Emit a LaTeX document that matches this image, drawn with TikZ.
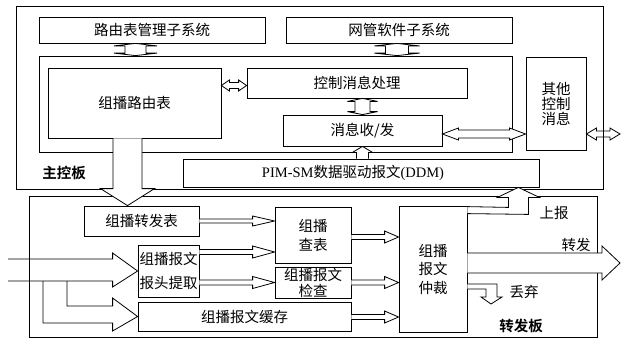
\documentclass[tikz,border=0pt]{standalone}
\usepackage{fontspec}
\newfontfamily\cjk{Noto Sans CJK SC}[BoldFont={Noto Sans CJK SC Bold}]
\newfontfamily\tnr{Liberation Serif}
\usetikzlibrary{calc}
\tikzset{
  box/.style={draw=black, line width=0.8pt, rectangle, inner sep=0pt, align=center, font=\cjk\fontsize{14.5}{18}\selectfont},
  frame/.style={draw=black, line width=0.8pt, rectangle, inner sep=0pt},
  hollow/.style={draw=black, line width=0.8pt, fill=white, line join=miter},
  hollowopen/.style={draw=black, line width=0.8pt, line join=miter},
  wire/.style={draw=black, line width=0.8pt, line join=miter},
  lbl/.style={inner sep=0pt, font=\cjk\fontsize{14.5}{18}\selectfont},
}
% right-pointing hollow arrow: start, tip, stem half, head half, head length
\newcommand\harrow[5]{\path[hollow] ($(#1)+(0,-#3)$) -- ($(#2)+(-#5,-#3)$) -- ($(#2)+(-#5,-#4)$) -- (#2) -- ($(#2)+(-#5,#4)$) -- ($(#2)+(-#5,#3)$) -- ($(#1)+(0,#3)$);}
% horizontal double arrow: left tip, right tip, stem half, head half, head length
\newcommand\hdarrow[6][hollow]{\path[#1] (#2) -- ($(#2)+(#6,-#5)$) -- ($(#2)+(#6,-#4)$) -- ($(#3)+(-#6,-#4)$) -- ($(#3)+(-#6,-#5)$) -- (#3) -- ($(#3)+(-#6,#5)$) -- ($(#3)+(-#6,#4)$) -- ($(#2)+(#6,#4)$) -- ($(#2)+(#6,#5)$) -- cycle;}
% vertical double arrow: top tip, bottom tip, stem half, head half, head length
\newcommand\vdarrow[5]{\path[hollow] (#1) -- ($(#1)+(#4,#5)$) -- ($(#1)+(#3,#5)$) -- ($(#2)+(#3,-#5)$) -- ($(#2)+(#4,-#5)$) -- (#2) -- ($(#2)+(-#4,-#5)$) -- ($(#2)+(-#3,-#5)$) -- ($(#1)+(-#3,#5)$) -- ($(#1)+(-#4,#5)$) -- cycle;}
% downward hollow arrow: start, tip, stem half, head half, head length
\newcommand\vsarrow[5]{\path[hollow] ($(#1)+(-#3,0)$) -- ($(#2)+(-#3,-#5)$) -- ($(#2)+(-#4,-#5)$) -- (#2) -- ($(#2)+(#4,-#5)$) -- ($(#2)+(#3,-#5)$) -- ($(#1)+(#3,0)$);}
\begin{document}
\begin{tikzpicture}[x=1pt,y=-1pt]
\useasboundingbox (0,0) rectangle (621,341);
% frames
\node[frame, minimum width=587pt, minimum height=183pt] (mainb) at (309.5,97.5) {};
\node[frame, minimum width=473pt, minimum height=96pt] (ctrl) at (275.5,104) {};
\node[frame, minimum width=568pt, minimum height=141pt] (fwdb) at (313,266.5) {};
% main board boxes
\node[box, minimum width=226pt, minimum height=26pt] (rtm) at (152,30) {路由表管理子系统};
\node[box, minimum width=226pt, minimum height=26pt] (nms) at (399,30) {网管软件子系统};
\node[box, minimum width=173pt, minimum height=70pt] (mrt) at (134.5,103) {组播路由表};
\node[box, minimum width=220pt, minimum height=30pt] (cmp) at (357,83) {控制消息处理};
\node[box, minimum width=159pt, minimum height=31pt] (msg) at (362.5,130.5) {消息收/发};
\node[box, minimum width=60pt, minimum height=93pt, font=\cjk\fontsize{14.5}{15}\selectfont] (oth) at (556,103.5) {其他\\控制\\消息};
\node[box, minimum width=356pt, minimum height=28pt] (pim) at (361,173) {{\tnr PIM-SM}数据驱动报文{\tnr (DDM)}\hspace*{16pt}};
% forwarding board boxes
\node[box, minimum width=115pt, minimum height=30pt] (mft) at (141.5,221) {组播转发表};
\node[box, minimum width=76pt, minimum height=56pt, font=\cjk\fontsize{14.5}{19}\selectfont] (lkp) at (313,235) {组播\\查表};
\node[box, minimum width=61pt, minimum height=52pt, font=\cjk\fontsize{14.5}{24}\selectfont] (hdr) at (168.5,271) {组播报文\\报头提取};
\node[box, minimum width=76pt, minimum height=31pt, font=\cjk\fontsize{14.5}{16}\selectfont] (chk) at (313,282.5) {组播报文\\检查};
\node[box, minimum width=213pt, minimum height=29pt] (buf) at (244.5,316.5) {组播报文缓存};
\node[box, minimum width=68pt, minimum height=126pt, font=\cjk\fontsize{14.5}{18.5}\selectfont] (arb) at (433,269) {组播\\报文\\仲裁};
% vertical double arrows
\coordinate (u1) at ($(rtm.south)+(-16.5,0)$);
\coordinate (d1) at (u1 |- ctrl.north);
\vdarrow{u1}{d1}{10.5}{21.5}{2.5}
\coordinate (u2) at ($(nms.south)+(-2,0)$);
\coordinate (d2) at (u2 |- ctrl.north);
\vdarrow{u2}{d2}{11.5}{22.5}{2.5}
\coordinate (u3) at (cmp.south -| msg.north);
\vdarrow{u3}{msg.north}{7.5}{15}{3}
% PIM -> msg up arrow
\coordinate (p0) at (pim.north -| msg.south);
\path[hollow] ($(p0)+(-6,0)$) -- ($(msg.south)+(-6,6)$) -- ($(msg.south)+(-10,6)$) -- (msg.south) -- ($(msg.south)+(10,6)$) -- ($(msg.south)+(6,6)$) -- ($(p0)+(6,0)$);
% horizontal double arrows
\coordinate (h1) at ($(cmp.west)+(0,2.5)$);
\coordinate (h0) at (mrt.east |- h1);
\hdarrow{h0}{h1}{3}{5.5}{8}
\coordinate (m1) at ($(msg.east)+(0,3.5)$);
\coordinate (m2) at (oth.west |- m1);
\hdarrow{m1}{m2}{4}{6}{16}
\coordinate (o1) at (oth.east |- m1);
\coordinate (o2) at (620,134);
\hdarrow[hollowopen]{o1}{o2}{3}{6}{10}
% big down arrow routing table -> forwarding table
\coordinate (b0) at ($(mrt.south)+(-7,0)$);
\coordinate (b1) at (b0 |- mft.north);
\vsarrow{b0}{b1}{14.5}{27}{17}
% small arrows into lookup / check / arbitration
\coordinate (t1) at (mft.east -| lkp.west);
\harrow{mft.east}{t1}{2}{5}{22}
\coordinate (s2) at ($(hdr.east)+(0,-19)$);
\coordinate (t2) at (s2 -| lkp.west);
\harrow{s2}{t2}{2.5}{6}{22}
\coordinate (s3) at (hdr.east |- chk.west);
\harrow{s3}{chk.west}{2.5}{6}{22}
\coordinate (s4) at ($(lkp.east)+(0,2)$);
\coordinate (t4) at (s4 -| arb.west);
\harrow{s4}{t4}{2.5}{6}{14}
\coordinate (t5) at (chk.east -| arb.west);
\harrow{chk.east}{t5}{2.5}{6}{14}
\coordinate (s6) at ($(buf.east)+(0,0.5)$);
\coordinate (t6) at (s6 -| arb.west);
\harrow{s6}{t6}{2.5}{6}{14}
% inputs
\coordinate (i1) at (8,259);
\coordinate (i2) at (8,281);
\draw[wire] (i1) -- ($(hdr.west)+(-25,-12)$) -- ($(hdr.west)+(-25,-18)$) -- (hdr.west) -- ($(hdr.west)+(-25,16)$) -- ($(hdr.west)+(-25,10)$) -- (i2);
\coordinate (j1) at (43,281);
\coordinate (j2) at (67,281);
\draw[wire] (j1) -- (43,323) -- ($(buf.west)+(-25,6.5)$) -- ($(buf.west)+(-25,14.5)$) -- (buf.west) -- ($(buf.west)+(-25,-18.5)$) -- ($(buf.west)+(-25,-10.5)$) -- (67,306) -- (j2);
% report up arrow
\coordinate (rt) at ($(pim.south east)+(-21,0)$);
\path[hollow] ($(arb.north east)+(0,8)$) -- ($(rt)+(10,27)$) -- ($(rt)+(10,10)$) -- ($(rt)+(21,10)$) -- (rt) -- ($(rt)+(-21,10)$) -- ($(rt)+(-10,10)$) -- ($(rt)+(-10,20)$) -- ($(arb.north east)+(0,1)$);
% forward arrow
\coordinate (f0) at ($(arb.east)+(0,-6)$);
\coordinate (ft) at (620,263);
\path[hollow] ($(f0)+(0,-10)$) -- ($(ft)+(-18,-10)$) -- ($(ft)+(-18,-17)$) -- (ft) -- ($(ft)+(-18,17)$) -- ($(ft)+(-18,10)$) -- ($(f0)+(0,10)$);
% discard arrow
\coordinate (d0) at ($(arb.east)+(0,17.5)$);
\coordinate (dt) at (491,304);
\path[hollow] ($(d0)+(0,-2.5)$) -- ($(dt)+(6,-20)$) -- ($(dt)+(6,-7)$) -- ($(dt)+(11,-7)$) -- (dt) -- ($(dt)+(-10,-7)$) -- ($(dt)+(-5,-7)$) -- ($(dt)+(-5,-15)$) -- ($(d0)+(0,2.5)$);
% labels
\node[lbl] (lsb) at (554,213) {上报};
\node[lbl] (lzf) at (576,245) {转发};
\node[lbl] (ldq) at (524,292) {丢弃};
\node[lbl] (lzfb) at (521,326) {\bfseries 转发板};
\node[lbl] (lzk) at (64,173) {\bfseries 主控板};
\end{tikzpicture}
\end{document}
